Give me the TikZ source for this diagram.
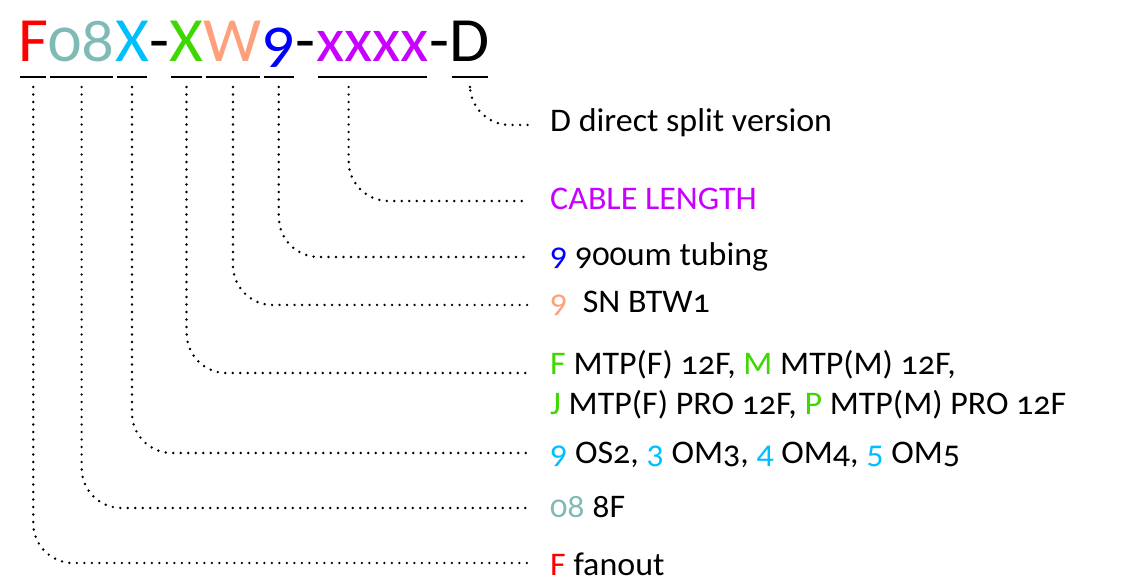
\documentclass[tikz,border=0pt]{standalone}
\usepackage{fontspec}
\setmainfont{Carlito}[Numbers=OldStyle]
\newfontfamily\partfont{Carlito}[Numbers=OldStyle, FakeStretch=1.035]
\newfontfamily\descfont{Carlito}[Numbers=OldStyle, FakeStretch=1.03]
\usepackage{tikz}
\usetikzlibrary{positioning}
\definecolor{fanred}{HTML}{FF0000}
\definecolor{fibteal}{HTML}{80BAB6}
\definecolor{modecyan}{HTML}{00BFFF}
\definecolor{conngreen}{HTML}{3CD800}
\definecolor{snsalmon}{HTML}{FFA07C}
\definecolor{tubeblue}{HTML}{0000FF}
\definecolor{lenpurple}{HTML}{C800FF}
\tikzset{part/.style={anchor=base west, inner sep=0pt, font=\partfont\fontsize{63}{63}\selectfont}}
\tikzset{desc/.style={anchor=base west, inner sep=0pt, align=left, font=\descfont\fontsize{33}{40}\selectfont}}
\tikzset{uline/.style={line width=2pt}}
\tikzset{leader/.style={line width=2.7pt, line cap=round, dash pattern=on 0pt off 7.5pt, rounded corners=40pt}}

\begin{document}
\begin{tikzpicture}[x=1pt, y=-1pt]
    \useasboundingbox (0,0) rectangle (1144,585);

    % part number
    \node[part, text=fanred]    (pF)    at (18,62)          {F};
    \node[part, text=fibteal]   (p08)   at (pF.base east)   {08};
    \node[part, text=modecyan]  (pX)    at (p08.base east)  {X};
    \node[part]                 (h1)    at (pX.base east)   {-};
    \node[part, text=conngreen] (pC)    at (h1.base east)   {X};
    \node[part, text=snsalmon]  (pW)    at (pC.base east)   {W};
    \node[part, text=tubeblue]  (p9)    at (pW.base east)   {9};
    \node[part]                 (h2)    at (p9.base east)   {-};
    \node[part, text=lenpurple] (pL)    at (h2.base east)   {xxxx};
    \node[part]                 (h3)    at (pL.base east)   {-};
    \node[part]                 (pD)    at (h3.base east)   {D};

    \foreach \p in {pF,p08,pX,pC,pW,p9,pL,pD}
        \draw[uline] ([xshift=2pt,yshift=-15pt]\p.base west) -- ([xshift=-2pt,yshift=-15pt]\p.base east);

    % descriptions
    \node[desc] (dD) at (550,132) {D direct split version};
    \node[desc, text=lenpurple] (dL) at (550,210) {CABLE LENGTH};
    \node[desc] (d9) at (550,266) {\textcolor{tubeblue}{9} 900um tubing};
    \node[desc] (dW) at (550,313) {\textcolor{snsalmon}{9}\ \ SN BTW1};
    \node[desc] (dC) at (550,415) {\textcolor{conngreen}{F} MTP(F) 12F, \textcolor{conngreen}{M} MTP(M) 12F,\\
        \textcolor{conngreen}{J} MTP(F) PRO 12F, \textcolor{conngreen}{P} MTP(M) PRO 12F};
    \node[desc] (dX) at (550,463) {\textcolor{modecyan}{9} OS2, \textcolor{modecyan}{3} OM3, \textcolor{modecyan}{4} OM4, \textcolor{modecyan}{5} OM5};
    \node[desc] (d08) at (550,517) {\textcolor{fibteal}{08} 8F};
    \node[desc] (dF) at (550,575) {\textcolor{fanred}{F} fanout};

    \coordinate (eD)  at (528,125);
    \coordinate (eL)  at (528,201);
    \coordinate (e9)  at (528,257);
    \coordinate (eW)  at (528,305);
    \coordinate (eC)  at (528,373);
    \coordinate (eX)  at (528,453);
    \coordinate (e08) at (528,508);
    \coordinate (eF)  at (528,563);

    % leaders
    \draw[leader] ([yshift=-25pt]pD.base) |- (eD);
    \draw[leader] ([xshift=-24pt,yshift=-25pt]pL.base) |- (eL);
    \draw[leader] ([yshift=-25pt]p9.base) |- (e9);
    \draw[leader] ([yshift=-25pt]pW.base) |- (eW);
    \draw[leader] ([yshift=-25pt]pC.base) |- (eC);
    \draw[leader] ([yshift=-25pt]pX.base) |- (eX);
    \draw[leader] ([yshift=-25pt]p08.base) |- (e08);
    \draw[leader] ([yshift=-25pt]pF.base) |- (eF);
\end{tikzpicture}
\end{document}
